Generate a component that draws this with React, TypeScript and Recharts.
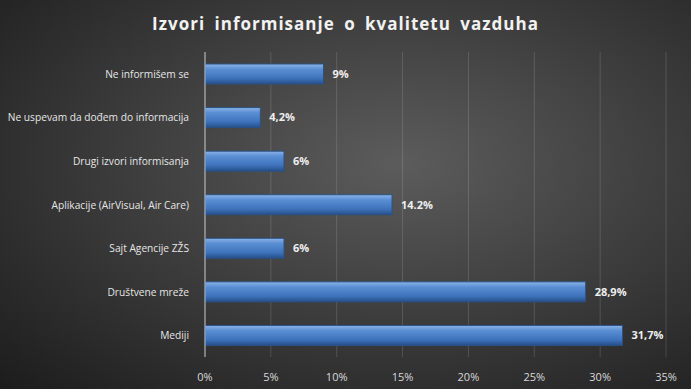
import { BarChart, Bar, XAxis, YAxis, CartesianGrid, LabelList } from 'recharts'

// survey answers, top to bottom as shown in the chart
const categories = [
  'Ne informišem se',
  'Ne uspevam da dođem do informacija',
  'Drugi izvori informisanja',
  'Aplikacije (AirVisual, Air Care)',
  'Sajt Agencije ZŽS',
  'Društvene mreže',
  'Mediji',
]
const shares = [9, 4.2, 6, 14.2, 6, 28.9, 31.7]
const shareLabels = ['9%', '4,2%', '6%', '14.2%', '6%', '28,9%', '31,7%']
const xTicks = [0, 5, 10, 15, 20, 25, 30, 35]

const data = categories.map((name, i) => ({
  name,
  value: shares[i],
  label: shareLabels[i],
}))

const font = '"Open Sans", "Liberation Sans", sans-serif'

// plain one-line category label, right aligned next to the axis
function CategoryTick(props: any) {
  const { x, y, payload } = props
  return (
    <text x={x} y={y} dy={4} textAnchor="end" fill="#e6e6e6" fontSize={10.2} fontFamily={font}>
      {payload.value}
    </text>
  )
}

function App() {
  return (
    <div
      style={{
        position: 'absolute',
        left: 0,
        top: 0,
        width: 691,
        height: 389,
        background: 'radial-gradient(ellipse at 58% 42%, #5c5c5c 0%, #3f3f3f 45%, #1c1c1c 100%)',
        fontFamily: font,
      }}
    >
      <div
        style={{
          position: 'absolute',
          top: 12,
          width: '100%',
          textAlign: 'center',
          color: '#f2f2f2',
          fontSize: 17,
          fontWeight: 700,
          letterSpacing: 1,
          wordSpacing: 4,
        }}
      >
        Izvori informisanje o kvalitetu vazduha
      </div>
      <BarChart
        width={691}
        height={389}
        data={data}
        layout="vertical"
        margin={{ top: 52, right: 25, bottom: 4, left: 0 }}
        barSize={20}
      >
        <defs>
          <linearGradient id="barFill" x1="0" y1="0" x2="0" y2="1">
            <stop offset="0%" stopColor="#8db4e8" />
            <stop offset="25%" stopColor="#5b8fd4" />
            <stop offset="70%" stopColor="#3f74bd" />
            <stop offset="100%" stopColor="#254f8a" />
          </linearGradient>
        </defs>
        <CartesianGrid horizontal={false} stroke="rgba(255,255,255,0.14)" />
        <XAxis
          type="number"
          domain={[0, 35]}
          ticks={xTicks}
          tickFormatter={(v) => `${v}%`}
          axisLine={false}
          tickLine={false}
          tick={{ fill: '#d9d9d9', fontSize: 11, fontFamily: font }}
          tickMargin={10}
          height={28}
        />
        <YAxis
          type="category"
          dataKey="name"
          width={205}
          axisLine={{ stroke: '#bfbfbf' }}
          tickLine={false}
          tick={<CategoryTick />}
          tickMargin={10}
        />
        <Bar dataKey="value" fill="url(#barFill)" stroke="#2a5285" strokeWidth={1} isAnimationActive={false}>
          <LabelList
            dataKey="label"
            position="right"
            offset={9}
            fill="#efefef"
            fontSize={11}
            fontWeight={700}
            fontFamily={font}
          />
        </Bar>
      </BarChart>
    </div>
  )
}

export default App
